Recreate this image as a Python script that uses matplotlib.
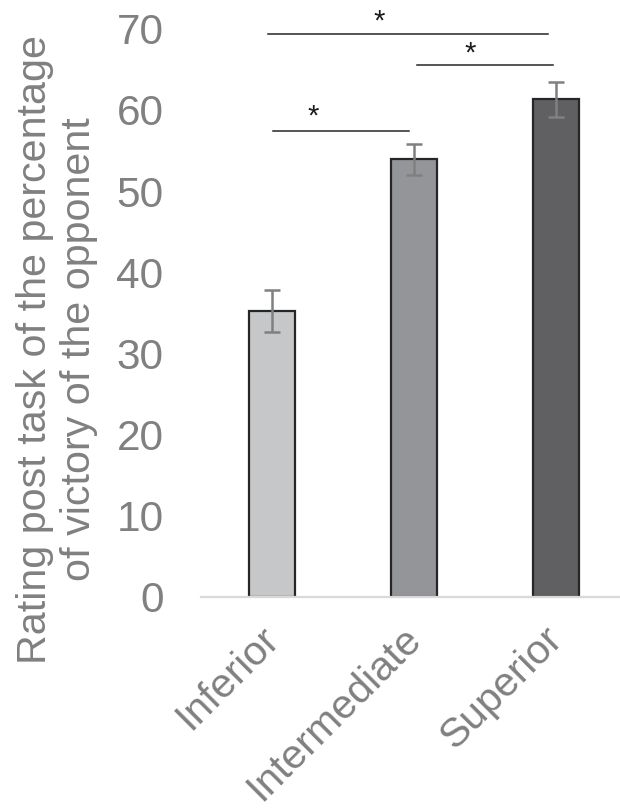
import matplotlib
matplotlib.use("Agg")
import matplotlib.pyplot as plt
import matplotlib.transforms as mtransforms

categories = ["Inferior", "Intermediate", "Superior"]
means = [35.2, 53.9, 61.3]
errors = [2.6, 1.9, 2.15]
bar_colors = ["#c6c7c9", "#939598", "#606062"]
yticks = [0, 10, 20, 30, 40, 50, 60, 70]

# significance brackets: (x start, x end, y), star (x, y)
sig_lines = [(-0.028, 1.944, 69.3), (1.021, 1.979, 65.5), (0.007, 0.965, 57.4)]
sig_stars = [(0.754, 71.3), (1.394, 67.4), (0.289, 59.6)]

plt.rcParams['font.family'] = ['Liberation Sans', 'DejaVu Sans']
grey = "#808080"

fig = plt.figure(figsize=(6.2, 8.11), dpi=100)
ax = fig.add_axes([201/620, 1 - 597/811, 419/620, 568.4/811])

x = list(range(len(categories)))
ax.bar(x, means, width=0.324, color=bar_colors, edgecolor="#262626", linewidth=1.6, zorder=2)
ax.errorbar(x, means, yerr=errors, fmt="none", ecolor=grey, elinewidth=1.8,
            capsize=6, capthick=1.8, zorder=3)

for x0, x1, yv in sig_lines:
    ax.plot([x0, x1], [yv, yv], color="#262626", linewidth=1.1, clip_on=False, zorder=3)
star_shift = mtransforms.ScaledTranslation(0, -4/100, fig.dpi_scale_trans)
for xs, ys in sig_stars:
    ax.text(xs, ys, "*", ha="center", va="center", fontsize=21, color="#1a1a1a",
            clip_on=False, transform=ax.transData + star_shift)

ax.set_xlim(-0.5, 2.451)
ax.set_ylim(0, 70)
ax.set_yticks(yticks)
ax.set_yticklabels([str(t) for t in yticks])
ax.set_xticks(x)
ax.set_xticklabels(categories, rotation=45, ha="right", va="top")

for s in ["top", "right", "left"]:
    ax.spines[s].set_visible(False)
ax.spines["bottom"].set_color("#d9d9d9")
ax.spines["bottom"].set_linewidth(1.6)

ax.tick_params(axis="y", length=0, pad=27, labelsize=30.5, labelcolor=grey)
ax.tick_params(axis="x", length=0, pad=16, labelsize=29.5, labelcolor=grey)

offset = mtransforms.ScaledTranslation(14/100, 0, fig.dpi_scale_trans)
for lab in ax.get_xticklabels():
    lab.set_transform(lab.get_transform() + offset)

fig.text(57/620, 1 - 349/811, "Rating post task of the percentage\nof victory of the opponent",
         rotation=90, ha="center", va="center", multialignment="center",
         fontsize=29.7, color=grey, linespacing=1.2)

fig.savefig("out.png", dpi=100)
